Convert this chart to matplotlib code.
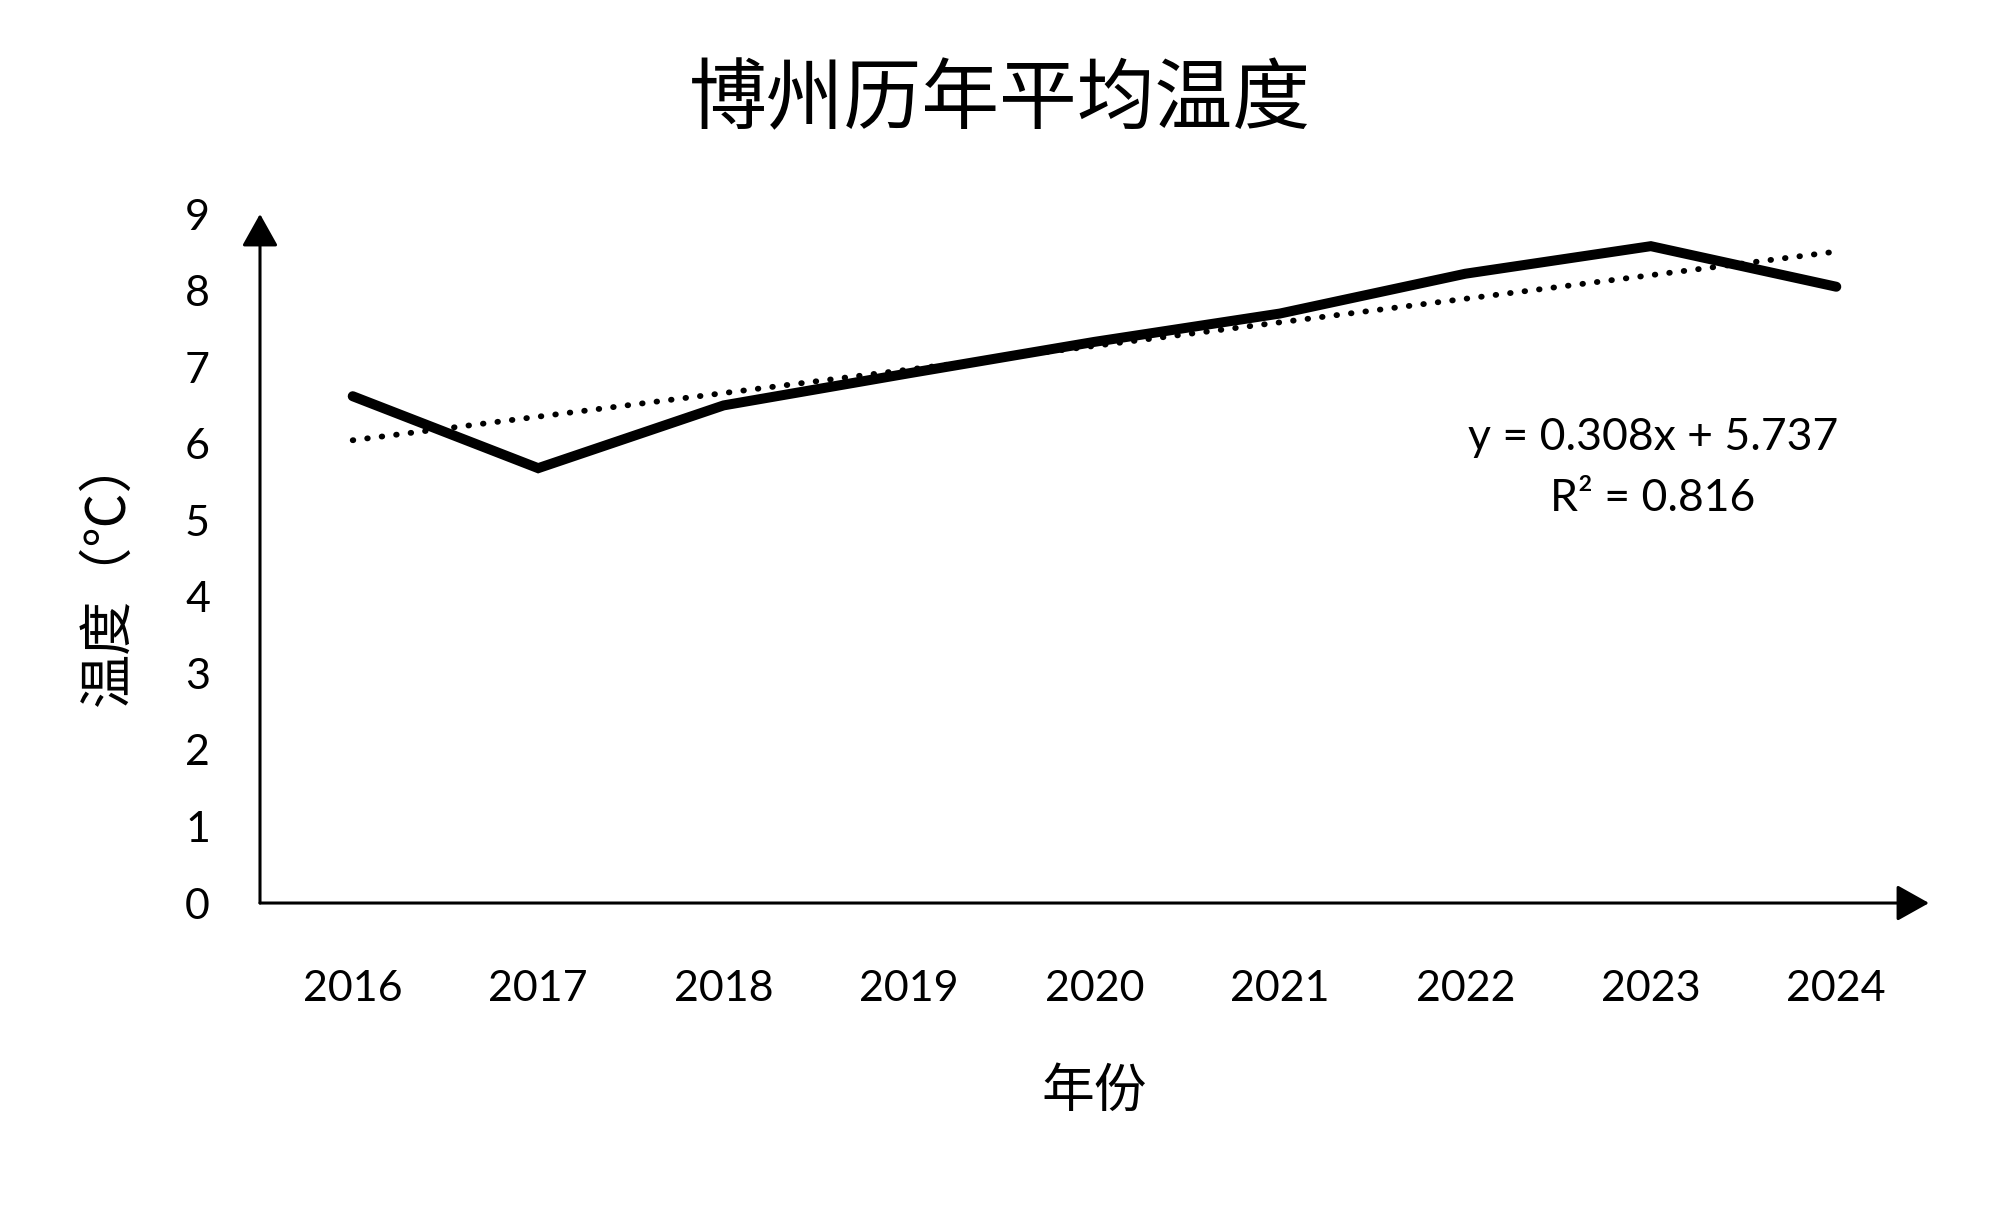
import matplotlib
matplotlib.use("Agg")
import matplotlib.pyplot as plt
import numpy as np

# ---- data ----
years = ["2016", "2017", "2018", "2019", "2020", "2021", "2022", "2023", "2024"]
temps = [6.62, 5.68, 6.50, 6.92, 7.33, 7.70, 8.22, 8.58, 8.05]
trend_slope = 0.308
trend_intercept = 5.737
r_squared = 0.816
y_ticks = [0, 1, 2, 3, 4, 5, 6, 7, 8, 9]

title = "博州历年平均温度"
xlabel = "年份"
ylabel = "温度（℃）"

cjk = ["Noto Sans CJK SC", "DejaVu Sans"]
latin = ["Lato", "DejaVu Sans"]

fig = plt.figure(figsize=(10, 6.025), dpi=200)
ax = fig.add_axes([0.13, 0.2506, 0.8345, 0.5718])

x = np.arange(1, len(years) + 1)
ax.plot(x, temps, color="black", lw=3.6, solid_joinstyle="miter", solid_capstyle="round", zorder=3)
trend = trend_slope * x + trend_intercept
ax.plot(x, trend, color="black", lw=2.1, linestyle=(0, (0.1, 2.4)), dash_capstyle="round", zorder=2)

ax.set_xlim(0.5, 9.5)
ax.set_ylim(0, 9)
for s in ax.spines.values():
    s.set_visible(False)

ax.set_xticks(x)
ax.set_xticklabels(years, fontfamily=latin, fontsize=15.5)
ax.set_yticks(y_ticks)
ax.set_yticklabels([str(v) for v in y_ticks], fontfamily=latin, fontsize=15.5)
ax.tick_params(axis="both", length=0)
ax.tick_params(axis="x", pad=24)
ax.tick_params(axis="y", pad=18)

# axes with arrowheads
arrow_kw = dict(arrowstyle="-|>,head_length=0.5,head_width=0.28", lw=1.1, color="black",
                shrinkA=0, shrinkB=0, mutation_scale=20)
ax.annotate("", xy=(0, 1.0), xytext=(0, 0), xycoords="axes fraction", textcoords="axes fraction",
            arrowprops=arrow_kw, annotation_clip=False)
ax.annotate("", xy=(1.0, 0), xytext=(0, 0), xycoords="axes fraction", textcoords="axes fraction",
            arrowprops=arrow_kw, annotation_clip=False)

ax.text(0.8345, 0.676, f"y = {trend_slope:.3f}x + {trend_intercept:.3f}", transform=ax.transAxes,
        ha="center", va="center", fontfamily=latin, fontsize=16)
ax.text(0.8345, 0.587, f"R² = {r_squared:.3f}", transform=ax.transAxes,
        ha="center", va="center", fontfamily=latin, fontsize=16)

fig.text(0.5, 0.916, title, ha="center", va="center", fontfamily=cjk, fontsize=28)
fig.text(0.547, 1 - 1091 / 1205, xlabel, ha="center", va="center", fontfamily=cjk, fontsize=19)
fig.text(108 / 2000, 1 - 571 / 1205, ylabel, ha="center", va="center", rotation=90,
         fontfamily=cjk, fontsize=19.5)

fig.savefig("out.png", dpi=200, facecolor="white")
